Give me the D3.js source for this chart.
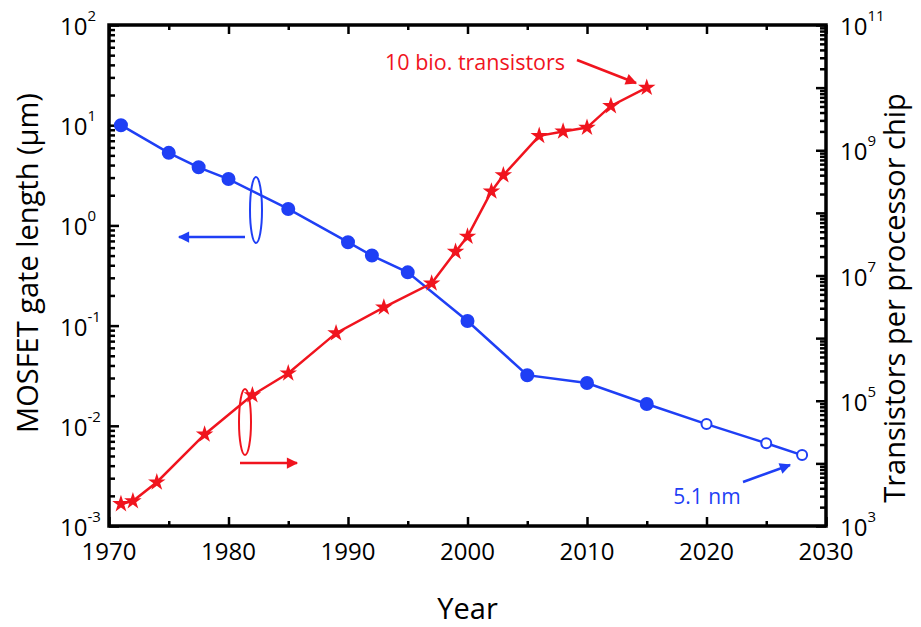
<!DOCTYPE html>
<html>
<head>
<meta charset="utf-8">
<script src="https://cdn.jsdelivr.net/npm/d3@7"></script>
<style>
  body { margin: 0; background: #fff; }
  text { font-family: "Open Sans", sans-serif; }
</style>
</head>
<body>
<div id="chart"></div>
<script>
// gate length (um) per year - filled markers are historic, open markers projected
const gateYears = [1971, 1975, 1977.5, 1980, 1985, 1990, 1992, 1995, 2000, 2005, 2010, 2015, 2020, 2025, 2028];
const gateLength = [10, 5.3, 3.8, 2.9, 1.46, 0.68, 0.50, 0.34, 0.111, 0.032, 0.0267, 0.0165, 0.0104, 0.0067, 0.0051];
const gateProjected = [false, false, false, false, false, false, false, false, false, false, false, false, true, true, true];

// transistors per processor chip
const chipYears = [1971, 1972, 1974, 1978, 1982, 1985, 1989, 1993, 1997, 1999, 2000, 2002, 2003, 2006, 2008, 2010, 2012, 2015];
const chipCount = [2250, 2500, 5000, 2.9e4, 1.23e5, 2.75e5, 1.2e6, 3.1e6, 7.5e6, 2.4e7, 4.2e7, 2.2e8, 4e8, 1.7e9, 2.0e9, 2.3e9, 5.1e9, 1.0e10];

const xTicks = [1970, 1980, 1990, 2000, 2010, 2020, 2030];
const leftExps = [-3, -2, -1, 0, 1, 2];
const rightExps = [3, 5, 7, 9, 11];

const W = 921, H = 627;
const margin = {top: 25, right: 95, bottom: 101, left: 109};
const width = W - margin.left - margin.right;
const height = H - margin.top - margin.bottom;

const blue = "#1f3ff5", red = "#f0141e";

const svg = d3.select("#chart").append("svg")
    .attr("width", W).attr("height", H);

const defs = svg.append("defs");
[["arrBlue", blue], ["arrRed", red]].forEach(function(m) {
    defs.append("marker")
        .attr("id", m[0])
        .attr("viewBox", "0 0 10 10")
        .attr("refX", 9).attr("refY", 5)
        .attr("markerWidth", 6.5).attr("markerHeight", 4.5)
        .attr("markerUnits", "strokeWidth")
        .attr("orient", "auto")
        .append("path")
        .attr("d", "M0,0 L10,5 L0,10 z")
        .attr("fill", m[1]);
});

const g = svg.append("g")
    .attr("transform", "translate(" + margin.left + "," + margin.top + ")");

const x = d3.scaleLinear().domain([1970, 2030]).range([0, width]);
const yL = d3.scaleLog().domain([1e-3, 1e2]).range([height, 0]);
const yR = d3.scaleLog().domain([1e3, 1e11]).range([height, 0]);

// minor tick values
const xMinor = d3.range(1975, 2030, 10);
let leftMinor = [];
for (let e = -3; e < 2; e++) for (let k = 2; k <= 9; k++) leftMinor.push(k * Math.pow(10, e));
let rightMinor = [];
for (let e = 3; e < 11; e++) for (let k = 2; k <= 9; k++) rightMinor.push(k * Math.pow(10, e));
const rightMajor = d3.range(3, 12).map(e => Math.pow(10, e));

function tickStyle(sel) {
    sel.select(".domain").remove();
    sel.selectAll("line").attr("stroke", "#000").attr("stroke-width", 2.5);
    sel.selectAll("text").remove();
}

// axes with inward ticks
g.append("g").attr("transform", "translate(0," + height + ")")
    .call(d3.axisBottom(x).tickValues(xTicks).tickSize(-9)).call(tickStyle);
g.append("g").attr("transform", "translate(0," + height + ")")
    .call(d3.axisBottom(x).tickValues(xMinor).tickSize(-5)).call(tickStyle);
g.append("g")
    .call(d3.axisTop(x).tickValues(xTicks).tickSize(-9)).call(tickStyle);
g.append("g")
    .call(d3.axisTop(x).tickValues(xMinor).tickSize(-5)).call(tickStyle);

g.append("g")
    .call(d3.axisLeft(yL).tickValues(leftExps.map(e => Math.pow(10, e))).tickSize(-10)).call(tickStyle);
g.append("g")
    .call(d3.axisLeft(yL).tickValues(leftMinor).tickSize(-6)).call(tickStyle);
g.append("g").attr("transform", "translate(" + width + ",0)")
    .call(d3.axisRight(yR).tickValues(rightMajor).tickSize(-10)).call(tickStyle);
g.append("g").attr("transform", "translate(" + width + ",0)")
    .call(d3.axisRight(yR).tickValues(rightMinor).tickSize(-6)).call(tickStyle);

// frame
g.append("rect")
    .attr("width", width).attr("height", height)
    .attr("fill", "none").attr("stroke", "#000").attr("stroke-width", 3.5);

// tick labels
g.selectAll(".xlab").data(xTicks).enter().append("text")
    .attr("x", d => x(d)).attr("y", height + 34)
    .attr("text-anchor", "middle")
    .style("font-size", "24px")
    .text(d => d);

const ll = g.selectAll(".llab").data(leftExps).enter().append("text")
    .attr("x", -49).attr("y", d => yL(Math.pow(10, d)) + 10)
    .style("font-size", "24px");
ll.append("tspan").text("10");
ll.append("tspan").attr("dy", -14).style("font-size", "15px").text(d => d);

const rl = g.selectAll(".rlab").data(rightExps).enter().append("text")
    .attr("x", width + 14).attr("y", d => yR(Math.pow(10, d)) + 10)
    .style("font-size", "24px");
rl.append("tspan").text("10");
rl.append("tspan").attr("dy", -14).style("font-size", "15px").text(d => d);

// axis titles
svg.append("text")
    .attr("x", margin.left + width / 2).attr("y", 619)
    .attr("text-anchor", "middle")
    .style("font-size", "29px")
    .text("Year");
svg.append("text")
    .attr("transform", "translate(38,263) rotate(-90)")
    .attr("text-anchor", "middle")
    .style("font-size", "29px")
    .text("MOSFET gate length (\u00b5m)");
svg.append("text")
    .attr("transform", "translate(905,298) rotate(-90)")
    .attr("text-anchor", "middle")
    .style("font-size", "29px")
    .text("Transistors per processor chip");

// gate length series
const gateData = gateYears.map((d, i) => ({year: d, v: gateLength[i], open: gateProjected[i]}));
g.append("path").datum(gateData)
    .attr("fill", "none").attr("stroke", blue).attr("stroke-width", 2.5)
    .attr("d", d3.line().x(d => x(d.year)).y(d => yL(d.v)));
g.selectAll(".gdot").data(gateData).enter().append("circle")
    .attr("cx", d => x(d.year)).attr("cy", d => yL(d.v))
    .attr("r", d => d.open ? 5 : 6)
    .attr("fill", d => d.open ? "#fff" : blue)
    .attr("stroke", blue).attr("stroke-width", 2);

// transistor series
const chipData = chipYears.map((d, i) => ({year: d, v: chipCount[i]}));
g.append("path").datum(chipData)
    .attr("fill", "none").attr("stroke", red).attr("stroke-width", 2.5)
    .attr("d", d3.line().x(d => x(d.year)).y(d => yR(d.v)));
g.selectAll(".star").data(chipData).enter().append("path")
    .attr("transform", d => "translate(" + x(d.year) + "," + yR(d.v) + ")")
    .attr("d", d3.symbol(d3.symbolStar, 95))
    .attr("fill", red);

// ellipses and direction arrows
svg.append("ellipse").attr("cx", 256).attr("cy", 210).attr("rx", 6).attr("ry", 33)
    .attr("fill", "none").attr("stroke", blue).attr("stroke-width", 2);
svg.append("line").attr("x1", 245).attr("y1", 237).attr("x2", 179).attr("y2", 237)
    .attr("stroke", blue).attr("stroke-width", 2.5).attr("marker-end", "url(#arrBlue)");

svg.append("ellipse").attr("cx", 245).attr("cy", 422).attr("rx", 6).attr("ry", 33)
    .attr("fill", "none").attr("stroke", red).attr("stroke-width", 2);
svg.append("line").attr("x1", 240).attr("y1", 463).attr("x2", 297).attr("y2", 463)
    .attr("stroke", red).attr("stroke-width", 2.5).attr("marker-end", "url(#arrRed)");

// annotations
svg.append("text")
    .attr("x", 475).attr("y", 70)
    .attr("text-anchor", "middle")
    .attr("fill", red)
    .style("font-size", "21.5px")
    .text("10 bio. transistors");
svg.append("line").attr("x1", 577).attr("y1", 60).attr("x2", 636).attr("y2", 83)
    .attr("stroke", red).attr("stroke-width", 2.5).attr("marker-end", "url(#arrRed)");

svg.append("text")
    .attr("x", 707).attr("y", 504)
    .attr("text-anchor", "middle")
    .attr("fill", blue)
    .style("font-size", "21px")
    .text("5.1 nm");
svg.append("line").attr("x1", 743).attr("y1", 482).attr("x2", 790).attr("y2", 465)
    .attr("stroke", blue).attr("stroke-width", 2.5).attr("marker-end", "url(#arrBlue)");
</script>
</body>
</html>
